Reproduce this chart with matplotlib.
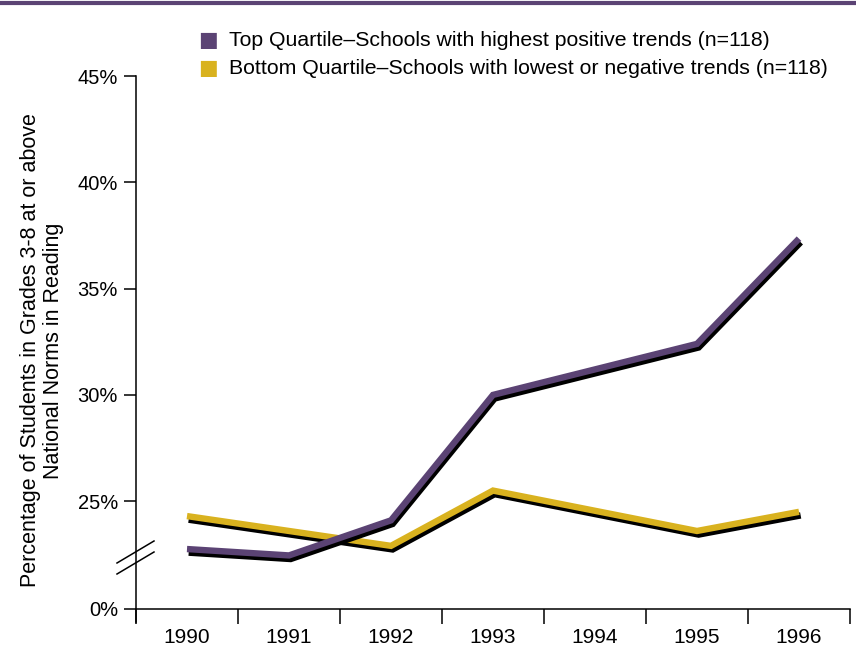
import matplotlib
matplotlib.use("Agg")
import matplotlib.pyplot as plt
import matplotlib.patheffects as pe
from matplotlib.lines import Line2D

plt.rcParams['font.family'] = ['Liberation Sans', 'DejaVu Sans']

# dados
anos = ["1990", "1991", "1992", "1993", "1994", "1995", "1996"]
top_quartil = [22.75, 22.45, 24.1, 30.0, 31.2, 32.4, 37.35]
bottom_quartil = [24.3, 23.6, 22.9, 25.5, 24.55, 23.6, 24.5]
rotulos_y = ["0%", "25%", "30%", "35%", "40%", "45%"]
valores_y = [25, 30, 35, 40, 45]
pos_zero = 19.93  # onde o 0% fica desenhado (eixo quebrado)

roxo = "#5b4374"
ouro = "#d9b21f"

fig = plt.figure(figsize=(8.56, 6.5), dpi=100)
ax = fig.add_axes([136 / 856, 41 / 650, 714 / 856, 533 / 650])

x = list(range(len(anos)))
sombra = [pe.SimpleLineShadow(offset=(1.2, -2.6), shadow_color="black", alpha=1.0),
          pe.Normal()]
ax.plot(x, bottom_quartil, color=ouro, lw=4.6, solid_capstyle="butt",
        solid_joinstyle="miter", path_effects=sombra, zorder=3)
ax.plot(x, top_quartil, color=roxo, lw=4.6, solid_capstyle="butt",
        solid_joinstyle="miter", path_effects=sombra, zorder=4)

ax.set_xlim(-0.5, len(anos) - 0.5)
ax.set_ylim(pos_zero, 45)

ax.set_yticks([pos_zero] + valores_y)
ax.set_yticklabels(rotulos_y)
ax.set_xticks(x)
ax.set_xticklabels(anos)
ax.set_xticks([i + 0.5 for i in range(-1, len(anos))], minor=True)
ax.tick_params(axis="x", which="major", length=0, pad=14, labelsize=15)
ax.tick_params(axis="x", which="minor", length=11, width=1.1, direction="out")
ax.tick_params(axis="y", length=9, width=1.1, labelsize=14.5, pad=4)

for lado in ["top", "right"]:
    ax.spines[lado].set_visible(False)
ax.spines["left"].set_linewidth(1.1)
ax.spines["bottom"].set_linewidth(1.1)
ax.spines["left"].set_bounds(pos_zero - 0.6, 45)

ax.set_ylabel("Percentage of Students in Grades 3-8 at or above\nNational Norms in Reading",
              fontsize=15.5, linespacing=1.1)
ax.yaxis.set_label_coords(-0.101, 0.485)

# marcas da quebra do eixo
for dy in [0, 11]:
    fig.add_artist(Line2D([117 / 856, 154 / 856],
                          [(650 - 563 - dy) / 650, (650 - 541 - dy) / 650],
                          color="black", lw=1.1))

# linha roxa no topo
fig.add_artist(Line2D([0, 1], [1 - 2.5 / 650, 1 - 2.5 / 650], color=roxo, lw=3))

# legenda
itens = [(roxo, "Top Quartile\u2013Schools with highest positive trends (n=118)"),
         (ouro, "Bottom Quartile\u2013Schools with lowest or negative trends (n=118)")]
for i, (cor, texto) in enumerate(itens):
    yy = 1 - (40 + 28 * i) / 650
    fig.text(198 / 856, yy, "\u25A0", color=cor, fontsize=15, va="center",
             family=["DejaVu Sans"])
    fig.text(229 / 856, yy, texto, fontsize=15.3, va="center")

fig.savefig("out.png", dpi=100)
